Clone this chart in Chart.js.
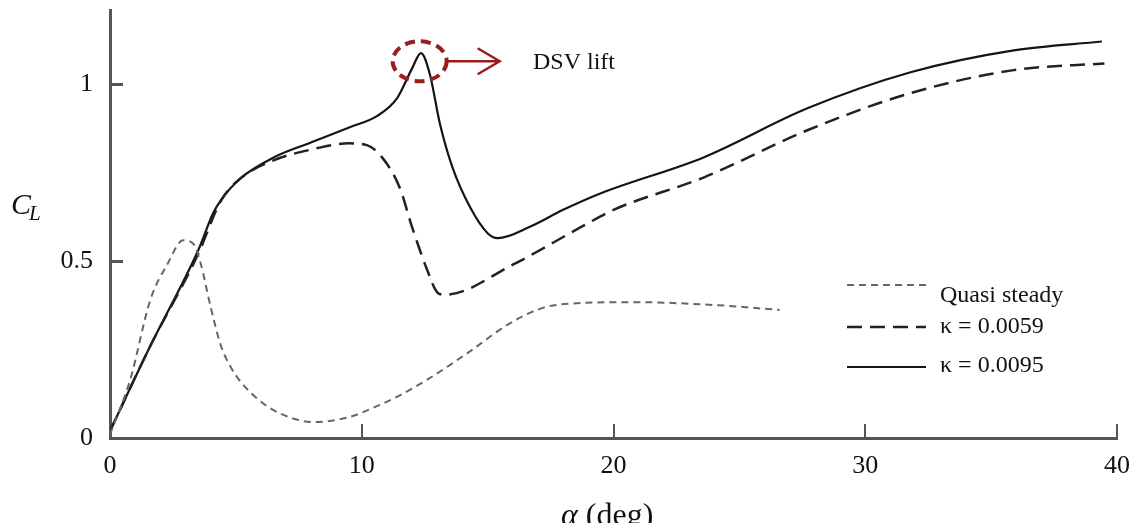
<!DOCTYPE html>
<html lang="en">
<head>
    <meta charset="UTF-8">
    <title>Lift coefficient vs angle of attack</title>
    <script src="https://cdn.jsdelivr.net/npm/chart.js"></script>
    <style>
        body { margin: 0; background: #fff; }
    </style>
</head>
<body>
    <canvas id="liftChart" width="1144" height="523"></canvas>

    <script>
        // angle of attack (deg) and lift coefficient
        const alphaQuasi = [0, 0.8, 1.6, 2.3, 2.9, 3.3, 3.6, 4.0, 4.4, 4.8, 5.2, 6.1, 7.0, 8.1, 9.5, 10.6, 11.5, 12.6, 14.2, 15.9, 17.2, 18.3, 20.8, 24.0, 26.6];
        const clQuasi = [0.01, 0.164, 0.39, 0.494, 0.559, 0.55, 0.494, 0.37, 0.262, 0.2, 0.158, 0.097, 0.062, 0.045, 0.059, 0.09, 0.12, 0.165, 0.24, 0.325, 0.368, 0.38, 0.384, 0.376, 0.362];

        const alphaK0059 = [0, 1.6, 3.5, 4.4, 5.2, 6.5, 7.9, 9.5, 10.2, 10.8, 11.5, 12.0, 12.6, 13.0, 13.3, 16.0, 18.7, 20.0, 23.6, 27.7, 31.8, 35.9, 39.5];
        const clK0059 = [0.02, 0.26, 0.52, 0.67, 0.735, 0.785, 0.814, 0.833, 0.828, 0.794, 0.709, 0.596, 0.475, 0.412, 0.405, 0.49, 0.596, 0.645, 0.737, 0.87, 0.975, 1.04, 1.059];

        const alphaK0095 = [0, 1.6, 3.5, 4.1, 4.4, 5.2, 6.5, 8.0, 9.5, 10.6, 11.4, 12.0, 12.35, 12.7, 13.1, 13.6, 14.3, 15.0, 15.4, 16.7, 18.0, 19.5, 23.6, 27.7, 31.8, 35.9, 39.4];
        const clK0095 = [0.02, 0.26, 0.53, 0.636, 0.672, 0.735, 0.793, 0.836, 0.878, 0.91, 0.96, 1.045, 1.088, 1.03, 0.89, 0.766, 0.653, 0.579, 0.565, 0.598, 0.645, 0.692, 0.794, 0.932, 1.034, 1.096, 1.121];

        const xTicks = [0, 10, 20, 30, 40];
        const yTicks = [0, 0.5, 1];
        const seriesNames = ['Quasi steady', 'κ = 0.0059', 'κ = 0.0095'];

        const serif = '"Liberation Serif", "DejaVu Serif", serif';
        const axisColor = '#555';

        function toPoints(xs, ys) {
            return xs.map((x, i) => ({ x: x, y: ys[i] }));
        }

        // axis titles, inward tick marks, legend and the DSV note
        const decorPlugin = {
            id: 'decor',
            afterDraw(chart) {
                const ctx = chart.ctx;
                const xs = chart.scales.x;
                const ys = chart.scales.y;
                const area = chart.chartArea;

                ctx.save();
                ctx.strokeStyle = axisColor;
                ctx.lineWidth = 3;
                yTicks.slice(1).forEach(v => {
                    const py = Math.round(ys.getPixelForValue(v)) + 0.5;
                    ctx.beginPath();
                    ctx.moveTo(area.left, py);
                    ctx.lineTo(area.left + 13, py);
                    ctx.stroke();
                });
                ctx.lineWidth = 2;
                xTicks.slice(1).forEach(v => {
                    const px = Math.round(xs.getPixelForValue(v));
                    ctx.beginPath();
                    ctx.moveTo(px, area.bottom);
                    ctx.lineTo(px, area.bottom - 14);
                    ctx.stroke();
                });

                // y title C_L
                ctx.fillStyle = '#111';
                ctx.textBaseline = 'alphabetic';
                ctx.textAlign = 'left';
                ctx.font = 'italic 30px ' + serif;
                ctx.fillText('C', 11, 214);
                ctx.font = 'italic 21px ' + serif;
                ctx.fillText('L', 29, 220);

                // x title (runs off the bottom edge, as in the source)
                ctx.font = 'italic 32px ' + serif;
                ctx.fillText('α', 561, 525);
                const aw = ctx.measureText('α ').width;
                ctx.font = '32px ' + serif;
                ctx.fillText('(deg)', 561 + aw, 525);

                // legend
                const rows = [
                    { y: 285, ty: 302 },
                    { y: 327, ty: 333 },
                    { y: 367, ty: 372 }
                ];
                ctx.font = '24px ' + serif;
                chart.data.datasets.forEach((ds, i) => {
                    ctx.strokeStyle = ds.borderColor;
                    ctx.lineWidth = ds.borderWidth;
                    ctx.setLineDash(ds.borderDash || []);
                    ctx.beginPath();
                    ctx.moveTo(847, rows[i].y);
                    ctx.lineTo(926, rows[i].y);
                    ctx.stroke();
                    ctx.setLineDash([]);
                    ctx.fillStyle = '#111';
                    ctx.fillText(ds.label, 940, rows[i].ty);
                });

                // DSV lift marker around the peak
                const cx = xs.getPixelForValue(12.3);
                const cy = ys.getPixelForValue(1.065);
                const red = '#9b1c1c';
                ctx.strokeStyle = red;
                ctx.lineWidth = 4;
                ctx.setLineDash([10, 6]);
                ctx.beginPath();
                ctx.ellipse(cx, cy, 27, 20, 0, 0, Math.PI * 2);
                ctx.stroke();
                ctx.setLineDash([]);
                ctx.lineWidth = 2.5;
                ctx.beginPath();
                ctx.moveTo(cx + 28, cy);
                ctx.lineTo(cx + 80, cy);
                ctx.moveTo(cx + 58, cy - 13);
                ctx.lineTo(cx + 80, cy);
                ctx.lineTo(cx + 58, cy + 13);
                ctx.stroke();
                ctx.fillStyle = '#111';
                ctx.font = '24px ' + serif;
                ctx.fillText('DSV lift', 533, 69);

                ctx.restore();
            }
        };

        const ctx = document.getElementById('liftChart').getContext('2d');

        new Chart(ctx, {
            type: 'scatter',
            data: {
                datasets: [
                    {
                        label: seriesNames[0],
                        data: toPoints(alphaQuasi, clQuasi),
                        showLine: true,
                        borderColor: '#666',
                        borderWidth: 2,
                        borderDash: [7, 5],
                        pointRadius: 0,
                        cubicInterpolationMode: 'monotone'
                    },
                    {
                        label: seriesNames[1],
                        data: toPoints(alphaK0059, clK0059),
                        showLine: true,
                        borderColor: '#222',
                        borderWidth: 2.5,
                        borderDash: [15, 8],
                        pointRadius: 0,
                        cubicInterpolationMode: 'monotone'
                    },
                    {
                        label: seriesNames[2],
                        data: toPoints(alphaK0095, clK0095),
                        showLine: true,
                        borderColor: '#151515',
                        borderWidth: 2.2,
                        pointRadius: 0,
                        cubicInterpolationMode: 'monotone'
                    }
                ]
            },
            options: {
                responsive: false,
                animation: false,
                layout: { padding: { top: 10, right: 27, left: 0, bottom: 0 } },
                plugins: {
                    legend: { display: false },
                    tooltip: { enabled: false }
                },
                scales: {
                    x: {
                        type: 'linear',
                        min: 0,
                        max: 40,
                        grid: { display: false },
                        border: { display: true, color: axisColor, width: 3 },
                        afterBuildTicks: scale => { scale.ticks = xTicks.map(v => ({ value: v })); },
                        afterFit: scale => {
                            scale.height = 85;
                            scale.paddingLeft = 0;
                            scale.paddingRight = 0;
                        },
                        ticks: {
                            padding: 5,
                            color: '#111',
                            font: { family: serif, size: 26 },
                            maxRotation: 0
                        }
                    },
                    y: {
                        type: 'linear',
                        min: 0,
                        max: 1.21,
                        grid: { display: false },
                        border: { display: true, color: axisColor, width: 3 },
                        afterBuildTicks: scale => { scale.ticks = yTicks.map(v => ({ value: v })); },
                        afterFit: scale => {
                            scale.width = 110;
                            scale.paddingTop = 0;
                            scale.paddingBottom = 0;
                        },
                        ticks: {
                            padding: 9,
                            color: '#111',
                            font: { family: serif, size: 26 },
                            callback: v => String(v)
                        }
                    }
                }
            },
            plugins: [decorPlugin]
        });
    </script>
</body>
</html>
